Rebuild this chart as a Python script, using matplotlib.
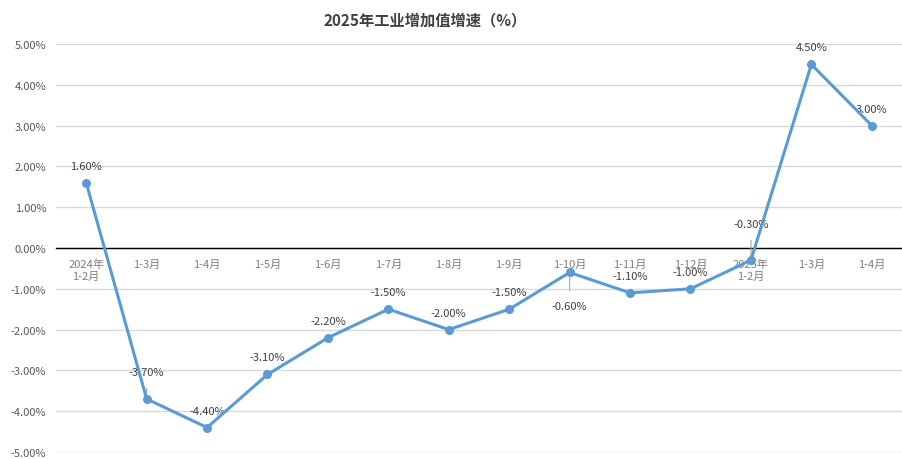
import matplotlib.pyplot as plt
from matplotlib.ticker import FuncFormatter

plt.rcParams['font.family'] = ['Noto Sans CJK SC', 'DejaVu Sans']

categories = ["2024年\n1-2月", "1-3月", "1-4月", "1-5月", "1-6月", "1-7月", "1-8月",
              "1-9月", "1-10月", "1-11月", "1-12月", "2025年\n1-2月", "1-3月", "1-4月"]
growth = [1.6, -3.7, -4.4, -3.1, -2.2, -1.5, -2.0, -1.5, -0.6, -1.1, -1.0, -0.3, 4.5, 3.0]
labels = ["1.60%", "-3.70%", "-4.40%", "-3.10%", "-2.20%", "-1.50%", "-2.00%",
          "-1.50%", "-0.60%", "-1.10%", "-1.00%", "-0.30%", "4.50%", "3.00%"]
# label offsets in pixels (dx, dy), and whether a leader line is drawn
offsets = {1: (0, 27), 8: (0, -34), 11: (0, 36)}
leaders = {1, 8, 11}

fig = plt.figure(figsize=(9.03, 4.6), dpi=100)
ax = fig.add_axes([56 / 903, 1 - 453 / 460, 846 / 903, 408 / 460])

xs = list(range(len(categories)))
ax.plot(xs, growth, color="#5B9BD5", linewidth=2.2, marker="o", markersize=5.5, zorder=5)

for i, (x, y) in enumerate(zip(xs, growth)):
    dx, dy = offsets.get(i, (0, 17))
    if i in leaders:
        ax.annotate(labels[i], (x, y), xytext=(dx, dy), textcoords="offset pixels",
                    ha="center", va="center", fontsize=8, color="#404040",
                    arrowprops=dict(arrowstyle="-", color="#A6A6A6", lw=0.8,
                                    shrinkA=6, shrinkB=1))
    else:
        ax.annotate(labels[i], (x, y), xytext=(dx, dy), textcoords="offset pixels",
                    ha="center", va="center", fontsize=8, color="#404040")

ax.set_xlim(-0.5, len(categories) - 0.5)
ax.set_ylim(-5, 5)
ax.set_yticks([5, 4, 3, 2, 1, 0, -1, -2, -3, -4, -5])
ax.yaxis.set_major_formatter(FuncFormatter(lambda v, p: f"{v:.2f}%"))
ax.set_xticks(xs)
ax.set_xticklabels(categories, linespacing=1.45)

ax.grid(axis="y", color="#D9D9D9", linewidth=1)
ax.set_axisbelow(True)
for s in ["top", "right", "left"]:
    ax.spines[s].set_visible(False)
ax.spines["bottom"].set_position(("data", 0))
ax.spines["bottom"].set_color("black")
ax.spines["bottom"].set_linewidth(1)
ax.tick_params(axis="x", length=0, pad=8, labelsize=8, labelcolor="#7F7F7F")
ax.tick_params(axis="y", length=0, pad=7, labelsize=8, labelcolor="#595959")

fig.text(425 / 903, 1 - 20 / 460, "2025年工业增加值增速（%）", ha="center", va="center",
         fontsize=11, fontweight="bold", color="#404040")

fig.savefig("out.png", dpi=100)
